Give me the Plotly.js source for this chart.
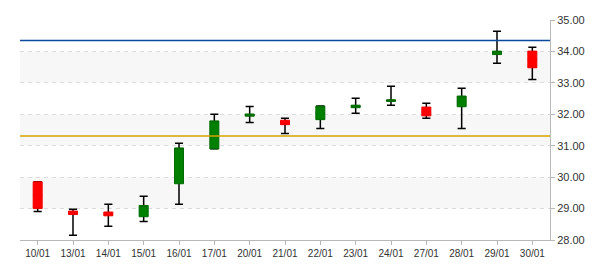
<!DOCTYPE html>
<html>
<head>
<meta charset="utf-8">
<script src="https://cdn.plot.ly/plotly-3.0.1.min.js"></script>
<style>html,body{margin:0;padding:0;background:#fff;}#chart{width:600px;height:270px;}</style>
</head>
<body>
<div id="chart"></div>
<script>
var dates = ['10/01','13/01','14/01','15/01','16/01','17/01','20/01','21/01','22/01','23/01','24/01','27/01','28/01','29/01','30/01'];
var openV  = [29.85, 28.92, 28.89, 28.74, 29.79, 30.90, 31.94, 31.81, 31.83, 32.21, 32.41, 32.23, 32.24, 33.90, 34.01];
var closeV = [29.00, 28.81, 28.77, 29.10, 30.93, 31.79, 32.01, 31.67, 32.26, 32.29, 32.46, 31.95, 32.58, 34.01, 33.48];
var highV  = [29.85, 28.98, 29.14, 29.39, 31.08, 32.00, 32.25, 31.87, 32.26, 32.51, 32.89, 32.35, 32.83, 34.64, 34.13];
var lowV   = [28.91, 28.15, 28.44, 28.59, 29.14, 30.90, 31.74, 31.39, 31.55, 32.03, 32.29, 31.87, 31.55, 33.62, 33.11];
var refLevels = [34.35, 31.31];
var refColors = ['#0b4a9c', '#d6a300'];
var bandLows  = [29, 31, 33];
var bandHighs = [30, 32, 34];
var yTicks = [28, 29, 30, 31, 32, 33, 34, 35];

var mid = openV.map(function(o, i){ return (o + closeV[i]) / 2; });
var bodyTop = openV.map(function(o, i){ return Math.max(o, closeV[i]); });
var bodyBot = openV.map(function(o, i){ return Math.min(o, closeV[i]); });

var whiskers = {
  type: 'candlestick', x: dates, open: mid, close: mid, high: highV, low: lowV,
  whiskerwidth: 0.9,
  increasing: {line: {color: '#000', width: 1.5}, fillcolor: '#000'},
  decreasing: {line: {color: '#000', width: 1.5}, fillcolor: '#000'},
  hoverinfo: 'skip', showlegend: false
};
var bodies = {
  type: 'candlestick', x: dates, open: openV, close: closeV, high: bodyTop, low: bodyBot,
  whiskerwidth: 0,
  increasing: {line: {color: '#006a00', width: 1}, fillcolor: '#008000'},
  decreasing: {line: {color: '#f00000', width: 1}, fillcolor: '#ff0000'},
  hoverinfo: 'skip', showlegend: false
};

var shapes = [];
bandLows.forEach(function(b, i){
  shapes.push({type: 'rect', xref: 'paper', yref: 'y', x0: 0, x1: 1, y0: b, y1: bandHighs[i],
    fillcolor: '#f7f7f7', line: {width: 0}, layer: 'below'});
});
refLevels.forEach(function(v, i){
  shapes.push({type: 'line', xref: 'paper', yref: 'y', x0: 0, x1: 1, y0: v, y1: v,
    line: {color: refColors[i], width: 1.5}, layer: 'above'});
});

var layout = {
  width: 600, height: 270,
  margin: {l: 20, r: 50, t: 20, b: 30},
  paper_bgcolor: '#fff', plot_bgcolor: 'rgba(0,0,0,0)',
  font: {family: '"Liberation Sans", Arial, sans-serif', size: 10, color: '#333'},
  showlegend: false,
  boxmode: 'overlay', boxgap: 0.745, boxgroupgap: 0,
  xaxis: {
    type: 'category', range: [-0.5, 14.5], rangeslider: {visible: false},
    showgrid: false, zeroline: false,
    showline: true, linecolor: '#b8b8b8', linewidth: 1,
    ticks: 'outside', ticklen: 4, tickcolor: '#b8b8b8',
    tickfont: {size: 10, color: '#333'}, fixedrange: true
  },
  yaxis: {
    side: 'right', range: [28, 35], tickvals: yTicks, tickformat: '.2f',
    showgrid: true, gridcolor: '#dcdcdc', griddash: '4px,4px', gridwidth: 1,
    zeroline: false, showline: true, linecolor: '#b8b8b8', linewidth: 1,
    ticks: 'outside', ticklen: 4, tickcolor: '#b8b8b8',
    tickfont: {size: 11, color: '#333'}, fixedrange: true
  },
  shapes: shapes
};

Plotly.newPlot('chart', [whiskers, bodies], layout, {displayModeBar: false, staticPlot: true});
</script>
</body>
</html>
